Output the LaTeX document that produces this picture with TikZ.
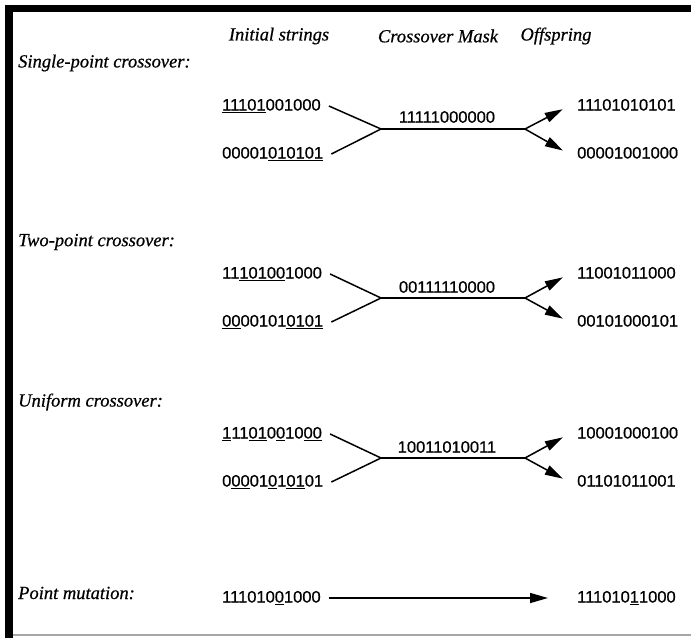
\documentclass[tikz,border=0pt]{standalone}
\usepackage{fontspec}
\setmainfont{Liberation Serif}[ItalicFeatures={FakeBold=0.6}]
\newfontfamily\bitfont{Liberation Sans}[FakeBold=0.8]
\usetikzlibrary{arrows.meta}
\newcommand{\bu}[1]{\underline{#1}}
\tikzset{
  bits/.style={font=\bitfont\fontsize{16.5}{18}\selectfont, inner ysep=0pt, inner xsep=8pt,
               text height=12pt, text depth=3pt, anchor=west},
  mask/.style={font=\bitfont\fontsize{16.5}{18}\selectfont, inner sep=0pt},
  head/.style={font=\itshape\fontsize{18.5}{20}\selectfont, inner sep=0pt},
  sect/.style={font=\itshape\fontsize{18.5}{20}\selectfont, inner sep=0pt, anchor=west},
  fork/.style={line width=1.5pt},
  arr/.style={line width=1.5pt, -{Triangle[length=18pt,width=10pt]}},
}
\begin{document}
\begin{tikzpicture}[x=1pt,y=-1pt]
\useasboundingbox (0,0) rectangle (691,638);
% рамка
                \fill [black] ( 5, 5 ) rectangle ( 691, 12 );
                \fill [black] ( 5, 5 ) rectangle ( 13, 638 );
                \draw [gray!70, line width=1.2pt] ( 13, 635 ) -- ( 691, 635 );
% заголовки
                \node [head] (hinit) at ( 279, 36 ) {Initial strings};
                \node [head] (hmask) at ( 438, 36 ) {Crossover Mask};
                \node [head] (hoff)  at ( 556, 36 ) {Offspring};

% одноточечный
                \node [sect] (single) at ( 18, 63 ) {Single-point crossover:};
                \node [bits] (sa) at ( 214, 106 ) {\bu{11101}001000};
                \node [bits] (sb) at ( 214, 154 ) {00001\bu{010101}};
                \node [mask] (sm) at ( 447, 117 ) {11111000000};
                \node [bits] (sc) at ( 569, 106 ) {11101010101};
                \node [bits] (sd) at ( 569, 154 ) {00001001000};
                \coordinate (sf) at ( 381, 129 );
                \coordinate (sg) at ( 525, 129 );
                \draw [fork] (sa.east) -- (sf) -- (sb.east);
                \draw [fork] (sf) -- (sg);
                \draw [arr, shorten >=7pt] (sg) -- (sc.west);
                \draw [arr, shorten >=7pt] (sg) -- (sd.west);

% двухточечный
                \node [sect] (two) at ( 18, 242 ) {Two-point crossover:};
                \node [bits] (ta) at ( 214, 274 ) {11\bu{10100}1000};
                \node [bits] (tb) at ( 214, 322 ) {\bu{00}00101\bu{0101}};
                \node [mask] (tm) at ( 447, 287 ) {00111110000};
                \node [bits] (tc) at ( 569, 274 ) {11001011000};
                \node [bits] (td) at ( 569, 322 ) {00101000101};
                \coordinate (tf) at ( 381, 298 );
                \coordinate (tg) at ( 525, 298 );
                \draw [fork] (ta.east) -- (tf) -- (tb.east);
                \draw [fork] (tf) -- (tg);
                \draw [arr, shorten >=7pt] (tg) -- (tc.west);
                \draw [arr, shorten >=7pt] (tg) -- (td.west);

% равномерный
                \node [sect] (unif) at ( 18, 402 ) {Uniform crossover:};
                \node [bits] (ua) at ( 214, 434 ) {\bu{1}11\bu{01}0\bu{0}10\bu{00}};
                \node [bits] (ub) at ( 214, 482 ) {0\bu{00}01\bu{0}1\bu{01}01};
                \node [mask] (um) at ( 447, 447 ) {10011010011};
                \node [bits] (uc) at ( 569, 434 ) {10001000100};
                \node [bits] (ud) at ( 569, 482 ) {01101011001};
                \coordinate (uf) at ( 381, 458 );
                \coordinate (ug) at ( 525, 458 );
                \draw [fork] (ua.east) -- (uf) -- (ub.east);
                \draw [fork] (uf) -- (ug);
                \draw [arr, shorten >=7pt] (ug) -- (uc.west);
                \draw [arr, shorten >=7pt] (ug) -- (ud.west);

% мутация
                \node [sect] (mut) at ( 18, 593 ) {Point mutation:};
                \node [bits] (pa) at ( 214, 598 ) {111010\bu{0}1000};
                \node [bits] (pb) at ( 569, 598 ) {111010\bu{1}1000};
                \draw [arr, shorten >=21pt] (pa.east) -- (pb.west);
\end{tikzpicture}
\end{document}
